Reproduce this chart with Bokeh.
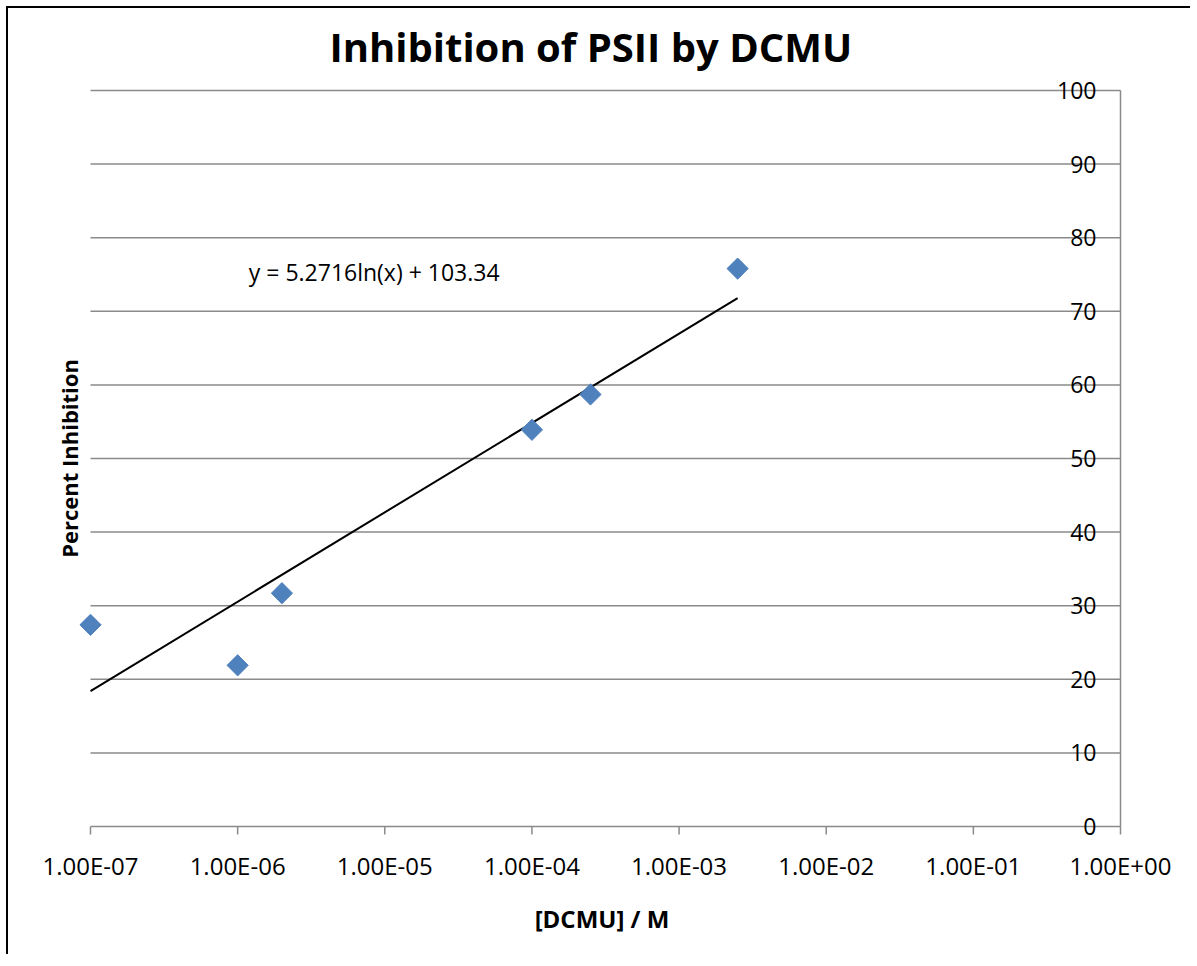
from bokeh.plotting import figure
from bokeh.models import (FixedTicker, LinearAxis, Label, Range1d)
from bokeh.embed import file_html
from bokeh.resources import INLINE
import numpy as np

# ---- data ----
conc = [1e-7, 1e-6, 2e-6, 1e-4, 2.5e-4, 2.5e-3]
inhibition = [27.4, 21.9, 31.7, 53.9, 58.7, 75.8]
trend_x = [1e-7, 2.5e-3]
trend_y = [18.4, 71.8]
x_ticks = [1e-7, 1e-6, 1e-5, 1e-4, 1e-3, 1e-2, 1e-1, 1e0]
x_tick_labels = ["1.00E-07", "1.00E-06", "1.00E-05", "1.00E-04",
                 "1.00E-03", "1.00E-02", "1.00E-01", "1.00E+00"]
y_ticks = [0, 10, 20, 30, 40, 50, 60, 70, 80, 90, 100]
y_tick_labels = [str(v) for v in y_ticks]
equation = "y = 5.2716ln(x) + 103.34"

FONT = "Open Sans"
GRID = "#8a8a8a"

# layout (pixels)
PX_DECADE = 147.14      # pixels per decade on x
PX_UNIT = 7.36          # pixels per percent on y
PAD_L, PAD_R, PAD_T, PAD_B = 11, 4, 10, 10
TICK_LEN = 8

x_lo = x_ticks[0] * 10 ** (-PAD_L / PX_DECADE)
x_hi = x_ticks[-1] * 10 ** (PAD_R / PX_DECADE)
y_lo = y_ticks[0] - PAD_B / PX_UNIT
y_hi = y_ticks[-1] + PAD_T / PX_UNIT
tick_drop = TICK_LEN / PX_UNIT

p = figure(x_axis_type="log", y_axis_location=None,
           x_range=Range1d(x_lo, x_hi), y_range=Range1d(y_lo, y_hi),
           frame_width=1045, frame_height=756,
           min_border_left=71, min_border_right=66, min_border_top=72,
           min_border_bottom=118,
           output_backend="svg", toolbar_location=None,
           title="Inhibition of PSII by DCMU")
p.styles = {"border-left": "2px solid black", "border-top": "2px solid black",
            "margin-left": "6px", "margin-top": "6px"}
p.outline_line_color = None
p.background_fill_color = "white"
p.border_fill_color = "white"
p.grid.visible = False

p.title.text_font = FONT
p.title.text_font_size = "40px"
p.title.text_font_style = "bold"
p.title.align = "left"
p.title.offset = 250
p.title.standoff = 14
p.title.text_color = "black"

# x axis (labels only; line and ticks drawn as glyphs at y = 0)
xa = p.xaxis[0]
xa.ticker = FixedTicker(ticks=x_ticks, minor_ticks=[])
xa.major_label_overrides = {t: l for t, l in zip(x_ticks, x_tick_labels)}
xa.major_label_text_font = FONT
xa.major_label_text_font_size = "24px"
xa.major_label_text_color = "black"
xa.major_tick_in = 0
xa.major_tick_out = 0
xa.minor_tick_in = 0
xa.minor_tick_out = 0
xa.axis_line_color = None
xa.major_tick_line_color = None
xa.major_label_standoff = 12
xa.axis_label = "[DCMU] / M"
xa.axis_label_text_font = FONT
xa.axis_label_text_font_size = "24px"
xa.axis_label_text_font_style = "bold"
xa.axis_label_text_color = "black"
xa.axis_label_standoff = 17

# left axis: label only
la = LinearAxis(ticker=FixedTicker(ticks=[]), axis_line_color=None,
                major_tick_line_color=None, minor_tick_line_color=None,
                axis_label="Percent Inhibition", axis_label_text_font=FONT,
                axis_label_text_font_size="22px", axis_label_text_font_style="bold",
                axis_label_text_color="black", axis_label_standoff=-4)
p.add_layout(la, "left")

n = len(y_ticks)
# horizontal gridlines
p.segment(x0=[x_ticks[0]] * n, y0=y_ticks, x1=[x_ticks[-1]] * n, y1=y_ticks,
          line_color=GRID, line_width=1.5)
# right-hand value axis line
p.segment(x0=[x_ticks[-1]], y0=[y_ticks[0]], x1=[x_ticks[-1]], y1=[y_ticks[-1]],
          line_color=GRID, line_width=1.5)
# x tick marks
m = len(x_ticks)
p.segment(x0=x_ticks, y0=[y_ticks[0]] * m, x1=x_ticks, y1=[y_ticks[0] - tick_drop] * m,
          line_color=GRID, line_width=1.5)

# y tick labels drawn inside, left of the right-hand axis
for yv, txt in zip(y_ticks, y_tick_labels):
    p.add_layout(Label(x=x_ticks[-1], y=yv, text=txt, x_offset=-24,
                       text_align="right", text_baseline="middle", text_font=FONT,
                       text_font_size="23px", text_color="black"))

# trendline
p.line(trend_x, trend_y, line_color="black", line_width=2)

# data points
p.scatter(conc, inhibition, marker="square", angle=np.pi / 4, size=15,
          fill_color="#4F81BD", line_color="#4F81BD")

# equation
p.add_layout(Label(x=1.19e-6, y=75.3, text=equation, text_font=FONT,
                   text_font_size="23px", text_baseline="middle",
                   text_align="left", text_color="black"))

open("out.html", "w").write(file_html(p, INLINE))
